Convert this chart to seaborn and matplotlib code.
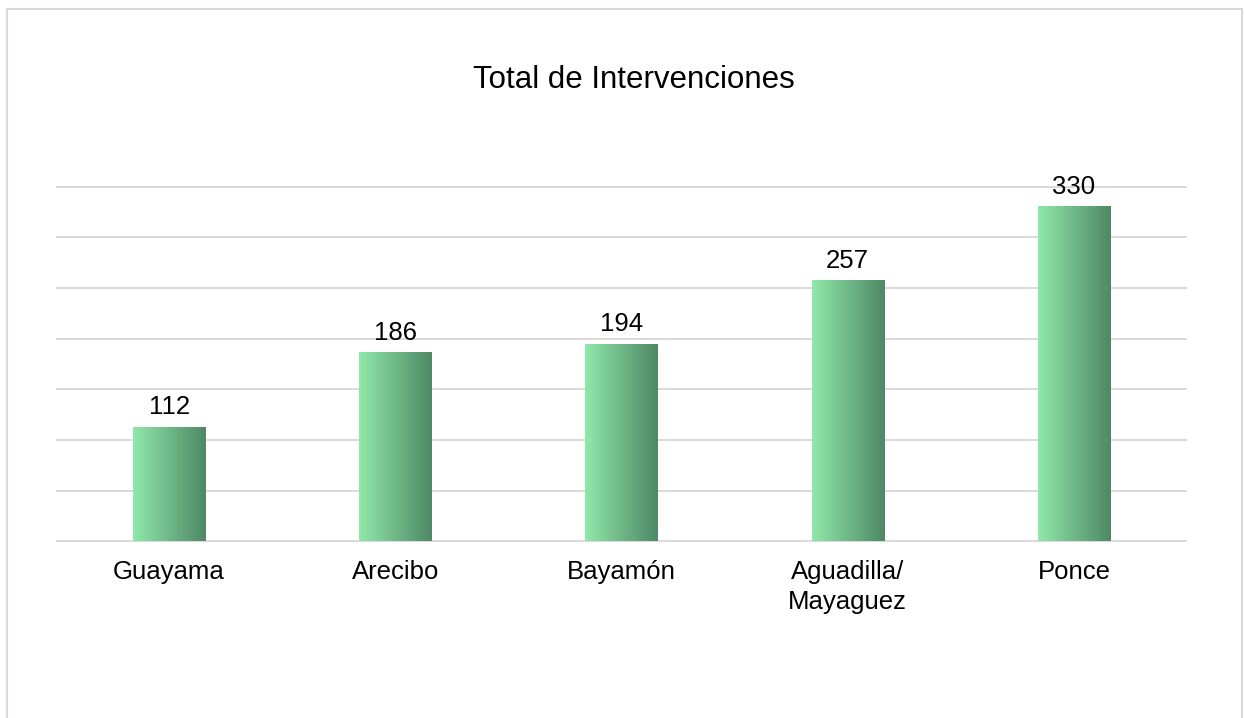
import matplotlib.pyplot as plt
import seaborn as sns
import numpy as np
from matplotlib.patches import Rectangle
from matplotlib.colors import LinearSegmentedColormap

# datos
regiones = ["Guayama", "Arecibo", "Bayamón", "Aguadilla/\nMayaguez", "Ponce"]
intervenciones = [112, 186, 194, 257, 330]
marcas_y = list(range(0, 351, 50))

sns.set_style("white")
plt.rcParams["font.family"] = ["Liberation Sans", "DejaVu Sans"]

fig = plt.figure(figsize=(12.44, 7.18), dpi=100)
ax = fig.add_axes([56 / 1244, 1 - 542 / 718, 1131 / 1244, 356 / 718])

sns.barplot(x=regiones, y=intervenciones, ax=ax, width=0.32, color="#8ee6a9")

# degradado horizontal dentro de cada barra
verde = LinearSegmentedColormap.from_list("verde", ["#90e8aa", "#4e8865"])
grad = np.linspace(0, 1, 256).reshape(1, -1)
for p in ax.patches:
    x0, w, h = p.get_x(), p.get_width(), p.get_height()
    ax.imshow(grad, extent=[x0, x0 + w, 0, h], aspect="auto", cmap=verde,
              zorder=3, interpolation="bicubic")
    p.set_facecolor("none")
    p.set_edgecolor("none")

ax.bar_label(ax.containers[0], labels=[str(v) for v in intervenciones],
             padding=6, fontsize=18.5, color="black")

ax.set_xlim(-0.5, 4.5)
ax.set_ylim(-0.8, 350.8)
ax.set_yticks(marcas_y)
ax.set_yticklabels([])
ax.yaxis.grid(True, color="#d9d9d9", lw=1.4)
ax.set_axisbelow(True)
ax.tick_params(axis="both", length=0)
ax.tick_params(axis="x", labelsize=18.5, pad=13, labelcolor="black")
for t in ax.get_xticklabels():
    t.set_linespacing(1.3)
sns.despine(ax=ax, left=True, bottom=True)

fig.text(634 / 1244, 1 - 88 / 718, "Total de Intervenciones", fontsize=22.5,
         ha="center", va="baseline", color="black")

# borde del grafico
fig.patches.append(Rectangle((7.5 / 1244, -0.1), 1234 / 1244, 1.1 - 9.5 / 718,
                             transform=fig.transFigure, fill=False,
                             edgecolor="#d9d9d9", lw=1.5))

fig.savefig("out.png", dpi=100)
